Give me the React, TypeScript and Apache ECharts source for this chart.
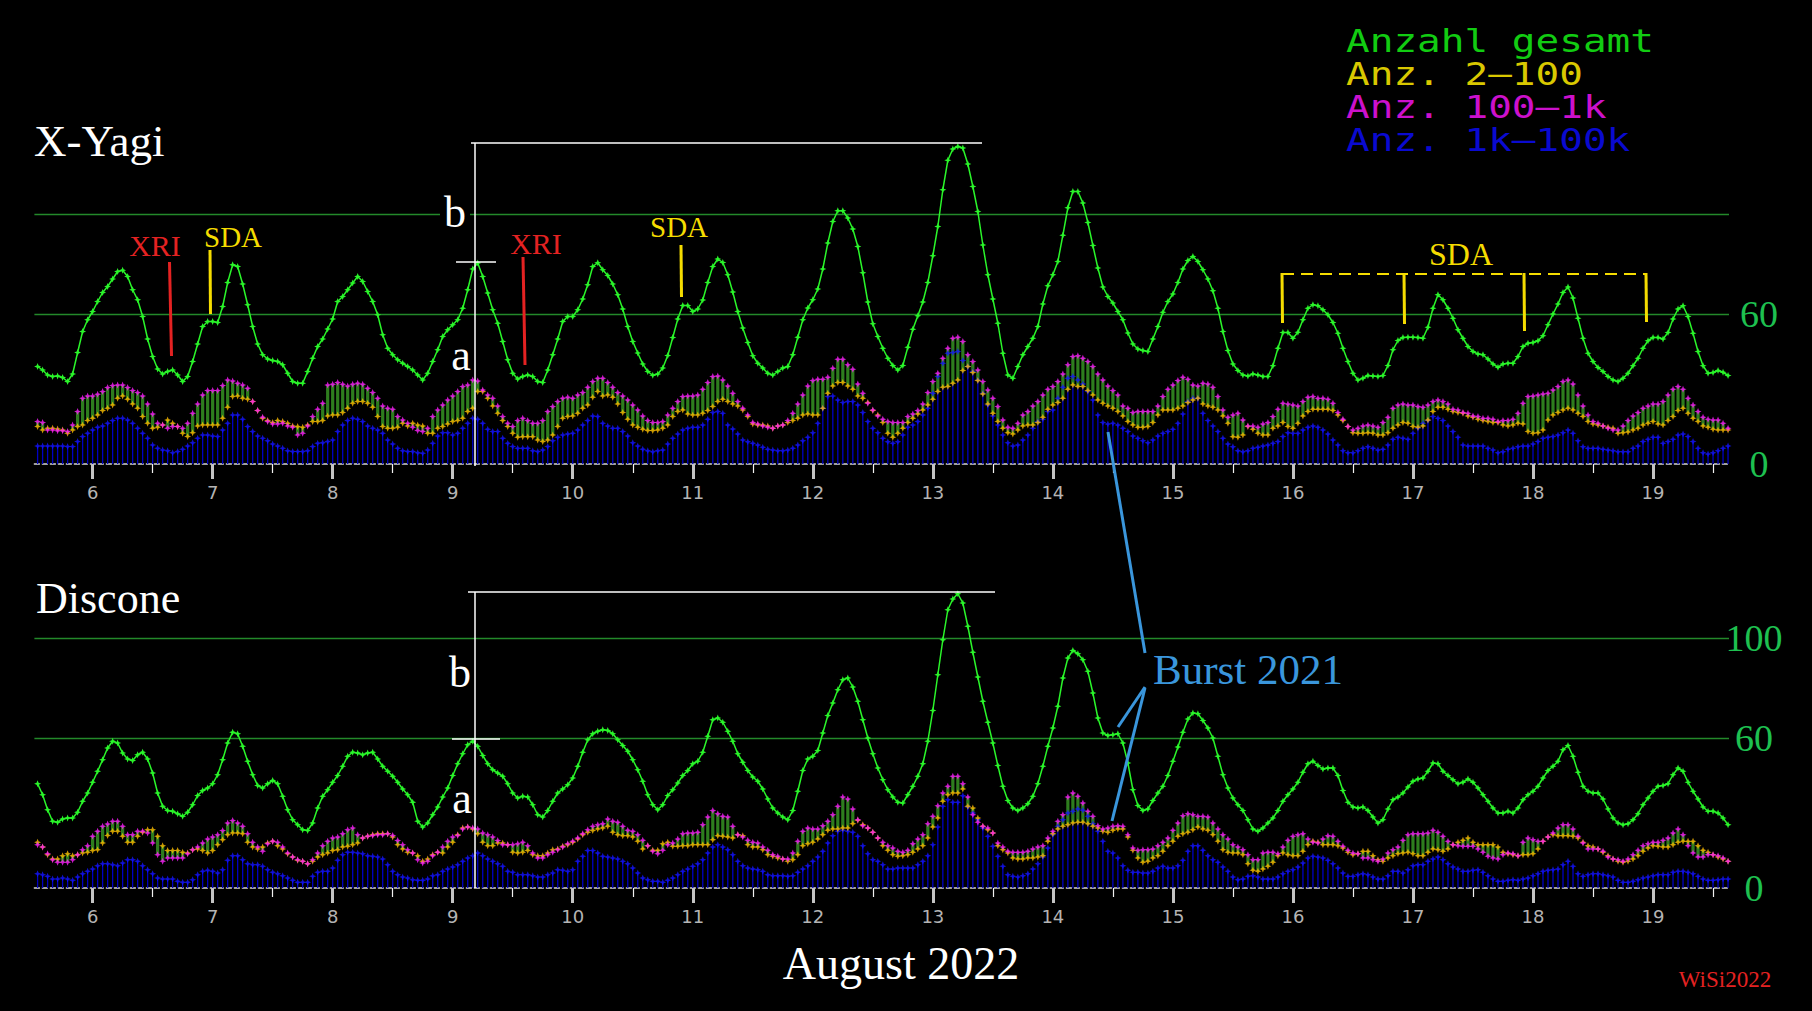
import React, { useEffect, useRef } from "react";
import * as echarts from "echarts";

// hourly samples, first one on 5 Aug 13:00 (x axis in days of August)
const START_DAY = 5 + 13 / 24;
const X_MIN = 5.515;
const X_MAX = 19.633;
const DAY_TICKS = [6, 7, 8, 9, 10, 11, 12, 13, 14, 15, 16, 17, 18, 19];
const HALF_TICKS = [6.5, 7.5, 8.5, 9.5, 10.5, 11.5, 12.5, 13.5, 14.5, 15.5, 16.5, 17.5, 18.5, 19.5];
const TOP_Y_LABELS = [0, 60];
const BOTTOM_Y_LABELS = [0, 60, 100];
const GRID_VALUES = [60, 100];

const LEGEND = ["Anzahl gesamt", "Anz. 2\u2013100", "Anz. 100\u20131k", "Anz. 1k\u2013100k"];

// ---------------- X-Yagi ----------------
const yagiTotal = [
  39, 37.6, 35.6, 35, 35.2, 34.6, 33, 36, 44.6, 53, 57.7,
  61, 65, 68.6, 71, 74, 77, 77.5, 75, 69.7, 65.7, 59, 50, 43, 38, 36, 37, 37.6, 35.6, 33, 35, 41, 48, 55, 57,
  57, 56.6, 63, 72.6, 79.7, 79, 72, 63.7, 55, 48, 43.7, 42, 41.4, 41, 39.7, 36.3, 33, 32.3, 32.3, 37, 42.3, 47, 50, 54,
  58, 65, 67, 69.7, 72.4, 75, 73, 69, 65, 59.7, 51.7, 46.3, 43.7, 41.7, 40.3, 39, 37.6, 35.6, 33.6, 36.3, 41, 45.7, 51, 53.7,
  55.7, 57.7, 62.3, 69.7, 78, 80.4, 75, 68.4, 61.7, 56.3, 49, 41.7, 36.3, 34, 35, 35.6, 35, 33, 32.6, 37.6, 43.7, 50, 57, 59,
  59, 61.7, 66, 71.7, 79, 80.5, 77.7, 75.4, 72, 67.7, 62, 55, 49, 44.4, 40, 37, 35.5, 36, 38.4, 43.4, 50.6, 58, 63.4, 63.4,
  61, 62, 65.6, 72.6, 79, 82, 80.6, 75.7, 68.8, 61, 54.4, 48.6, 43.3, 40.3, 38.4, 36.3, 35.6, 37, 38.4, 39, 43.7, 50.7, 57.7, 62.4,
  65.7, 70, 78, 88.4, 97, 101.3, 101.3, 98.4, 94, 87, 76.5, 64.8, 56.1, 51, 46.3, 42.3, 39.4, 37.6, 39.4, 46.7, 53.9, 59.3, 64.8, 72.6,
  83.3, 95, 109.7, 121.5, 126, 127, 126.4, 120, 111, 101, 87.6, 75.7, 66, 56.3, 44.3, 35.6, 34.3, 39, 43.7, 47, 50.3, 55, 64, 71.3,
  75.7, 81, 91.5, 102.5, 109, 109, 104.4, 96.6, 87.4, 78.4, 70.8, 67, 64.4, 61, 57.7, 52.4, 48, 46, 45.4, 45, 50, 55, 60.7, 65,
  68, 72.6, 78, 81.4, 83, 81, 77.7, 74, 69.3, 62.3, 53, 45.4, 40, 37.4, 35.6, 35.2, 36, 35.6, 35, 35, 39.3, 46.3, 52.6, 52.6,
  50.3, 52.7, 57.7, 62.3, 63.7, 63.3, 61.7, 59.7, 56.6, 52.3, 46.3, 41, 36.3, 33.6, 34.3, 35.4, 35.2, 35, 35.4, 39.4, 45.7, 49.4, 50.6, 50.7,
  50.7, 50.6, 50.3, 54.7, 62.3, 67.7, 65.7, 62.3, 58.3, 53.7, 50.3, 47, 45, 44, 43.7, 42, 40, 38.7, 40, 40.3, 40.3, 43, 47, 48.3,
  48.6, 49.3, 51.3, 55.7, 60, 64, 68.6, 70.8, 66.4, 58.3, 50.3, 44.3, 41, 38.6, 37, 35, 33.6, 33, 34.3, 36.3, 39.3, 42.3, 46.3, 49.3,
  50.6, 50.6, 50, 52.6, 58, 62, 63.3, 59, 52.3, 45, 39.3, 36.3, 36.6, 37.4, 36.7, 35.4,
];
const yagiMid = [
  17, 16.6, 13.6, 13.6, 13.3, 13.3, 13, 15.6, 21, 26.3, 27.2,
  27.2, 27.9, 29, 30.6, 31.4, 31.6, 31.6, 30.6, 29.4, 28.6, 27.2, 24, 20, 16.3, 15.6, 14.3, 15, 15, 14.3, 16.3, 20.3, 24, 27.6, 29.4,
  29.4, 29.4, 31.4, 33.6, 33.2, 32.3, 31.6, 30.3, 25, 21.4, 18.7, 17, 16, 16, 16.3, 15.2, 14.7, 11.6, 12.3, 15.2, 19, 21.9, 24.3, 31.6,
  31.9, 32.6, 31.9, 31.2, 31.9, 32.3, 31.9, 30.3, 28.6, 26.3, 23.2, 22.3, 21.9, 19, 17.6, 16.3, 14.7, 13.4, 13, 14.3, 19, 21.6, 23.6, 25.6,
  27.2, 29, 31, 31.6, 33.6, 33.2, 29.6, 27.6, 26.3, 23.2, 19, 16.3, 15, 17.4, 18.3, 17.4, 16.3, 16.3, 17.4, 21, 23, 25, 26.3, 26.7,
  26.3, 27.6, 28.6, 30.7, 33, 34.3, 34.3, 32.6, 30.7, 28.6, 27.2, 25.6, 23.6, 21.6, 19.2, 17.4, 16.6, 16.6, 17, 19.6, 22.3, 25, 27, 27.2,
  27.2, 27.6, 29.9, 32.6, 35, 35.2, 33.6, 31.2, 28.3, 25, 22.3, 19.6, 16.6, 16, 15.2, 14.7, 14.3, 15.2, 15.6, 17.4, 20.3, 24, 27.6, 31.2,
  33.4, 33.9, 33.9, 34.7, 38.3, 41.9, 41.9, 39.7, 37.9, 32, 28.3, 24.3, 21.6, 19.2, 17.9, 17, 16.6, 16.6, 16.6, 19, 20, 21.4, 24, 28.6,
  33, 36.3, 42.3, 46.3, 50.3, 50.7, 49, 43.7, 41, 37.6, 33, 29.6, 26.3, 23, 17.6, 14.7, 14.3, 16.3, 19.6, 21, 23.2, 25, 27.6, 29.9,
  31, 33, 36, 39.7, 43, 43.3, 42.3, 41, 39, 36, 33.6, 31.2, 29.4, 27.6, 23.2, 22.3, 20.6, 21, 21, 21, 21, 23.2, 27, 29.9,
  31.6, 33.4, 34.7, 33.9, 31.6, 31.2, 32.3, 32, 30.7, 27, 21.6, 18.7, 19.6, 20.3, 17.6, 15.2, 15.2, 14.7, 16, 16.6, 19, 21.9, 24.3, 24,
  23.6, 23.2, 25, 26.7, 27, 26.3, 26.3, 25.9, 24.3, 20.6, 17.9, 15, 13.6, 14.3, 15.2, 15.6, 15.2, 14.7, 16.6, 18.7, 22.3, 23.6, 24, 23.6,
  23.6, 23, 22.7, 23.6, 25, 25.6, 25, 24, 21.9, 21.6, 20.6, 20.3, 19.2, 19, 18.3, 18.3, 17.9, 17, 17.4, 17.4, 17.9, 20.3, 24.3, 27,
  27.2, 27.6, 28, 28.3, 29.6, 31, 33, 33.6, 32, 27.6, 23.2, 19.6, 17, 16.3, 15.2, 14.3, 13.6, 13.6, 15.2, 17.4, 19.2, 20.6, 22.3, 23.2,
  24, 24, 25, 27.6, 29.9, 31, 29.9, 26.3, 23.6, 21, 18.7, 17.9, 17.6, 17.6, 16.3, 14.3,
];
const yagiLow = [
  15, 13.6, 14.3, 14.3, 14, 13.6, 12.3, 13.6, 15, 15.6, 17.4,
  18.3, 19.6, 21.4, 22.3, 23.6, 26.3, 27.2, 25.9, 24, 22.3, 19, 16.3, 14.3, 14.7, 15.6, 17.6, 16.3, 15, 12.3, 11, 12.5, 15.2, 15.6, 15.6,
  15.6, 15.6, 18.3, 22.7, 27, 27.2, 26.3, 25.9, 25, 21.4, 18.3, 17.4, 16.6, 17.4, 17, 16.3, 15.2, 15, 14.7, 15.6, 17, 17, 17.4, 19.2,
  19.6, 19.6, 20.6, 22.3, 24.3, 25, 25, 24.3, 22.7, 19, 15, 14.3, 14.3, 14.7, 16.3, 15.2, 16.3, 15.6, 15.2, 12.3, 12.3, 14.3, 15, 16,
  17, 17.4, 18.3, 21, 22.3, 29, 29, 26.3, 23.2, 20.3, 17.4, 15, 12.3, 10.7, 10.9, 10.9, 10.9, 9.6, 9, 9.6, 11.6, 15, 18.3, 19,
  19.2, 20.3, 22.3, 23.6, 26.7, 29, 27.2, 27.6, 26.7, 24, 20.6, 17.9, 15.6, 14.7, 13.9, 13.4, 13.4, 13.6, 14.3, 15.6, 19, 21, 21.6, 20,
  19.6, 19.6, 20.3, 21.4, 23, 25, 25.9, 25, 24, 23.2, 21.6, 19, 16, 15.6, 15.6, 15.2, 14.3, 15.2, 15.6, 16.6, 17.4, 18.3, 19.6, 20,
  19.6, 19.6, 22.3, 28.3, 31.2, 32.6, 32.6, 31.2, 29.9, 27.2, 26.3, 24.6, 21.4, 19.6, 16.6, 12.3, 10.7, 12.3, 14.3, 16.6, 18.3, 20, 21.6, 23.6,
  25.9, 29, 30.7, 31, 32.3, 33.6, 37.4, 39, 36.6, 33.4, 28, 24, 20.3, 17, 14.3, 12.5, 12, 13.6, 15.2, 15.6, 15.6, 16.6, 18.7, 21.9,
  23.6, 24.6, 26.3, 29.9, 31.6, 31, 31, 29.4, 27.6, 25.6, 24.3, 23.2, 22.3, 21, 19.2, 17, 15.6, 14.7, 14.7, 15, 16.6, 19.6, 21.6, 21.6,
  21.6, 22.3, 23.2, 24.6, 25.6, 26.3, 24, 23.2, 22.7, 21.6, 19.2, 16.3, 10.9, 10.7, 11.6, 15, 13.9, 12.3, 11.6, 11.6, 14.3, 15.2, 16.6, 15,
  14.3, 16.3, 19.2, 21, 21.9, 21.9, 21.9, 21.9, 21.4, 19.6, 17.4, 15, 12.5, 12.3, 12.3, 12.5, 12.3, 11.6, 11.6, 12.5, 14.3, 15.6, 16.6, 16.3,
  15, 14.7, 15.2, 17.6, 21, 22.7, 22.7, 21.9, 21, 20.6, 20.3, 19.2, 18.7, 17.9, 17.4, 17, 16.6, 16.6, 15.6, 15.2, 15.6, 16.3, 16, 13,
  12.3, 12.5, 13.6, 17.6, 19.6, 20.6, 21.6, 22.3, 21.6, 20.3, 19, 17, 16, 15.6, 15.2, 14.7, 14.3, 12.3, 12.5, 12.8, 13.6, 14.3, 15.6, 16.3,
  17, 16, 15.6, 17.4, 19, 21.4, 22.3, 20.3, 18.3, 17, 15.2, 14.7, 13.9, 13.6, 13.6, 13.6,
];
const yagiHigh = [
  7.2, 7.2, 7.2, 7.2, 7.2, 7.2, 7, 7, 9, 11, 12.3,
  13.6, 14.7, 15.2, 16.3, 17.4, 18.3, 18.3, 17.6, 16.3, 14.3, 12.3, 10.3, 7.6, 6.3, 5.6, 5.3, 4.5, 5, 5.9, 7.2, 8.5, 10.3, 11.6, 11.6,
  11.2, 11, 13.6, 16.3, 19.6, 19.6, 17.9, 15, 13, 11.2, 10.3, 9.3, 8, 7.2, 6.3, 5.3, 5, 5, 5, 5.3, 7, 8.3, 8.5, 9,
  9.6, 13, 15.6, 17.4, 18.3, 17.9, 17, 15.2, 14.3, 13.6, 12.3, 9.6, 8, 6.3, 5.3, 5, 5, 4.5, 4.3, 5.6, 8.3, 11.2, 12.5, 12.5,
  11.6, 12.3, 14.3, 16.3, 18.3, 17.9, 16.3, 13.9, 13, 13, 10.3, 8.3, 7, 6.3, 6.3, 6.3, 5.3, 5, 5.6, 7, 9.3, 10.7, 11.6, 12,
  12.3, 13.6, 15.6, 17.4, 19.2, 19, 16.3, 15.2, 14.3, 14.3, 13, 11.2, 8.5, 7.2, 5.9, 5.3, 4.9, 5.3, 5.6, 8, 10.3, 12, 13.6, 14.3,
  14.7, 14.7, 15.6, 17.9, 20.6, 21, 20.3, 15.6, 14, 12, 9.6, 8.9, 8.3, 7.6, 6.7, 5.9, 5.6, 5.3, 5.3, 5.6, 6.3, 7.6, 9.3, 10.7,
  12.5, 16.3, 22.3, 27, 27.2, 25.6, 24.6, 25, 25, 23.6, 20.6, 17, 14.3, 12.5, 10.3, 8.9, 8.3, 8.9, 11.6, 14.7, 15.6, 17, 19.6, 22.3,
  28.3, 35, 40.3, 44.3, 44.6, 45, 41.4, 39, 37, 33.6, 28.3, 23.6, 19.2, 15.6, 11.6, 8.5, 7.2, 7.6, 9.6, 11.6, 14.3, 17, 17.9, 21,
  21.6, 26.3, 30.7, 34.3, 35, 33.6, 32, 29, 25.6, 19.6, 16.6, 16, 16.3, 15.6, 14.3, 13, 11.2, 10.3, 9.3, 8.5, 9.6, 11.2, 12.3, 13,
  13.9, 16.3, 20, 25, 26.3, 26.3, 20.3, 17.4, 15.2, 13, 10.3, 8, 6.9, 5.3, 4.9, 5.3, 6.3, 6.7, 7.2, 7.6, 8.3, 9, 11, 12.5,
  12.3, 12.3, 13.6, 14.7, 15.2, 14.7, 13.6, 12, 9.6, 7.6, 5.3, 4.5, 4.5, 5.3, 6.3, 6.9, 6.3, 5.6, 5.9, 7.6, 9.9, 10.7, 10.3, 9.9,
  12.3, 14.3, 16.3, 17.4, 19, 18.3, 17.4, 15.2, 13, 10.7, 7.6, 7.2, 7.2, 7.2, 7.2, 6.3, 5.6, 4.5, 4.9, 5.9, 6.3, 6.9, 7.2, 7.2,
  8, 9, 10.3, 10.7, 11, 11.6, 12.5, 13.6, 12.3, 9.3, 6.9, 6.3, 6.3, 6.3, 5.9, 5.6, 5.3, 4.9, 4.9, 4.9, 6.3, 7.2, 9, 9.9,
  10.7, 10.7, 8.3, 9, 9.9, 11.6, 12, 11, 9, 6.3, 4.5, 4, 4.5, 5.3, 6.3, 7.2,
];

// ---------------- Discone ----------------
const disconeTotal = [
  41.7, 37.3, 31.3, 26.7, 26.3, 27.6, 28, 28, 30.3, 34.7, 38,
  42.3, 46.7, 51.3, 56, 58.7, 58, 54, 51.6, 51, 53.3, 54.3, 51.6, 46, 38, 32.7, 31, 30.7, 29.7, 28.7, 30.3, 33.3, 37, 39, 40,
  41.7, 45.3, 51.3, 58, 62.3, 61.7, 56.7, 50.7, 45.3, 41, 40, 41.7, 43, 41.7, 36.7, 31.3, 27.3, 25.3, 23.3, 23, 26, 32, 36.7, 39.3,
  42.3, 45, 48.7, 52.7, 54.3, 54, 53.3, 54, 54.3, 51.6, 48.7, 46.7, 44.7, 42.3, 39.6, 37.3, 34.3, 26.7, 24.4, 26, 29.3, 32.4, 36.4, 40,
  45, 49.7, 53.7, 57.3, 58.7, 56.7, 53, 49.7, 47.3, 46, 44.7, 41.7, 38, 36, 36.7, 36.4, 33.3, 29.3, 28.4, 31, 34.7, 38, 39.6, 41.3,
  44, 48.7, 54.3, 59.3, 61.7, 62.7, 63.3, 63, 61.7, 59.3, 57, 54.7, 51.3, 47.3, 42.7, 37.3, 33.3, 31.3, 33.3, 37, 39.3, 42, 45, 47,
  49.7, 50.7, 54.3, 60.7, 67.3, 68, 66.3, 62.7, 58.7, 53.7, 50.3, 47, 44.4, 42.7, 39.6, 35.6, 32, 30, 28.4, 27.3, 31, 38.7, 47, 51.6,
  52.7, 55, 62, 69, 74, 79.3, 83.3, 84, 80.4, 74.7, 67.3, 60, 53.7, 48, 43.3, 39.3, 36.4, 34.3, 34, 37.3, 40.7, 44.7, 49.7, 58.7,
  71, 85.3, 99.3, 111.3, 115.6, 117.7, 114, 104.7, 94.3, 84.4, 74.7, 66.3, 58, 49, 40.7, 35, 32, 31, 32, 33.7, 36.7, 41.7, 48.7, 56.7,
  64, 72.7, 84, 92, 95, 93.7, 91.3, 86.7, 78, 68, 62, 61, 61.3, 61.7, 58, 50, 39.3, 33, 31, 31.6, 35, 38, 40.7, 45,
  50.7, 56.4, 62.3, 67.6, 70, 69.7, 67, 64, 60, 52.7, 45.3, 40, 36, 33.3, 31, 27.3, 23.6, 22.7, 24, 26, 28, 31, 34.7, 37.3,
  39.6, 42.3, 46.3, 49.7, 50.7, 49, 47.6, 48, 48, 45, 39, 34.3, 32.4, 32, 32.4, 31, 28.4, 26, 27.3, 31.6, 35.3, 36.4, 38, 40.4,
  42.7, 43.6, 44, 46.7, 50, 49.7, 46.7, 45, 43.3, 41.7, 42.3, 43.6, 42.3, 40, 37.3, 34.7, 32, 30, 30, 30.7, 30, 32, 35.3, 37.3,
  38.7, 40.7, 44, 47, 48.7, 50.7, 55.3, 57, 52.7, 46.3, 40.7, 38.7, 38, 38, 35.6, 31.6, 28, 26, 25.3, 25.7, 27.3, 29.7, 33.3, 36,
  38.7, 40.7, 41, 41.7, 45.3, 48, 46.7, 42.3, 38.7, 35.6, 32.4, 30.7, 30.7, 30, 28, 25.3,
];
const disconeMid = [
  17.3, 16.4, 13.7, 11.3, 10.3, 10.3, 10.3, 11.3, 13.3, 15.3, 16.9,
  20.7, 22.7, 24.7, 25.6, 26.7, 26.7, 24.7, 21.3, 21.3, 22.7, 22.7, 22, 18, 13.3, 10.7, 12, 12, 12, 12, 13.7, 15.3, 16.4, 18, 19.6,
  20.4, 21.3, 23, 26, 27, 26, 24.7, 21.7, 18.3, 16.4, 14.7, 17.7, 18.7, 18.3, 16.4, 14, 12.4, 11.3, 10.7, 9.7, 11.3, 14, 16.9, 18.7,
  20, 20.4, 21.7, 23.3, 24, 21.3, 20, 20.7, 21, 21.3, 21.3, 21.7, 21, 19, 17.3, 15.3, 14, 11.3, 10, 10.7, 12.9, 14.3, 16.4, 18.7,
  20.4, 21, 23.6, 24.4, 24, 23.6, 22, 21.3, 20.4, 19, 17.3, 17.3, 17.3, 17.7, 18.3, 16.9, 14, 12, 12, 13.3, 14.3, 15.3, 16.4, 17.7,
  18.7, 20, 21.7, 23.3, 24.7, 25.3, 25.7, 27.6, 26.7, 26.3, 24.7, 23.1, 22.7, 21.3, 19.1, 16.9, 14.7, 13.7, 15.1, 17.3, 18, 19.6, 21.7, 22,
  22, 22.3, 25.3, 28.4, 31, 29.7, 28.7, 28.4, 24.7, 21.3, 20.4, 19.1, 18.3, 18, 16.4, 15.1, 13.3, 12.7, 11.6, 11.6, 14, 18.7, 22.7, 24,
  23.6, 23.6, 24.9, 26.7, 29.3, 32.7, 36.4, 35.6, 31.6, 27.3, 24.9, 24, 22.3, 20, 18.3, 16.9, 16, 14.7, 14.3, 15.1, 17.7, 19.6, 21.3, 25.7,
  28.7, 32.9, 38, 40.7, 44.7, 44.7, 41.7, 36.4, 29.3, 26.3, 24.7, 24, 22, 18, 16.4, 14.7, 14.3, 14.3, 14.3, 14.7, 15.6, 16.4, 16.9, 20,
  22.7, 26.7, 29.3, 36.4, 38, 36.7, 34, 30.7, 28.7, 24.9, 23.6, 24, 24.7, 24.9, 24.7, 21.3, 16, 15.1, 15.3, 15.3, 15.6, 16.9, 18.3, 20,
  23.1, 26, 28.9, 29.7, 29.3, 28.7, 28.7, 28.4, 26, 23.6, 21.3, 19.6, 17.3, 16.4, 15.3, 13.3, 11.3, 11.3, 14, 14.3, 14.3, 13.7, 16.4, 19.1,
  20.7, 21.3, 21.7, 19.6, 18.3, 18, 19.6, 20.9, 20.7, 18.7, 16.7, 15.1, 14, 13.7, 12, 12, 11.3, 10.7, 11.6, 14, 15.3, 16.4, 19.1, 21.3,
  21.7, 21.7, 21.7, 22, 23.1, 22.3, 20.7, 18.7, 17.3, 16.9, 16.7, 16.7, 16.7, 15.6, 14.3, 12.7, 12, 11.6, 13.3, 14, 13.7, 12.9, 18.3, 20,
  19.3, 18.7, 18.7, 20.4, 22, 24, 25.3, 25.3, 23.6, 20.7, 18, 15.6, 15.6, 15.6, 14.7, 12.4, 11.6, 11.3, 10.7, 11.6, 13.3, 15.1, 16.9, 17.7,
  18.3, 18.3, 19.1, 20, 22, 23.6, 21.3, 16.9, 14, 12.4, 12.4, 13.3, 13.3, 12.9, 12, 10.7,
];
const disconeLow = [
  18.3, 16.4, 13.3, 11.6, 11.6, 12.9, 13.7, 12.9, 13.3, 14, 14.3,
  15, 15.3, 18, 21, 22.7, 22.7, 20.7, 18.3, 18.3, 20.7, 22.3, 23.3, 23.3, 20.7, 16.9, 15, 15, 15, 14.3, 14, 15.3, 15.6, 15, 14,
  15, 17.3, 19.3, 21.3, 22, 22, 21.7, 18.3, 16.4, 15.6, 16.4, 18, 18.7, 16.9, 15.6, 13.7, 12.4, 11.1, 10.7, 9.7, 10.7, 12.4, 13.3, 14,
  15, 15.3, 16.4, 16.7, 17.3, 18, 20, 20.7, 21.3, 21.7, 21.7, 21.7, 20.4, 17.3, 15.6, 14.3, 14, 12.9, 10.7, 11.6, 13.3, 14.3, 14, 16.4,
  18.3, 21.3, 24, 24.4, 23.6, 21.7, 18.3, 16.9, 16.9, 18, 18, 17.3, 14.3, 14, 14.3, 15, 13.3, 12.9, 12.9, 14, 15.3, 15.6, 16.7, 17.3,
  18.3, 19.6, 21.3, 22.3, 23, 23.6, 24, 24.7, 22.3, 21.3, 20.9, 20.9, 20.4, 18.7, 15.6, 16.9, 15.1, 15.1, 17.7, 18.3, 16.7, 16.7, 16.9, 16.9,
  17.3, 17.3, 17.3, 17.3, 19.3, 20.9, 20.7, 20.4, 20, 21.3, 20.9, 17.3, 16.4, 16.4, 15.3, 13.3, 12.7, 12, 11.6, 10.7, 11.3, 13.3, 16.9, 17.7,
  18.3, 19.6, 21.3, 23.1, 23.6, 23.6, 24, 24, 25.7, 27.1, 25.3, 24, 22.3, 20, 16.9, 15.1, 13.3, 12.7, 12.9, 13.3, 14.3, 15.6, 16.9, 20,
  24.4, 28, 34.7, 37.3, 38, 38, 39.6, 32.7, 32, 28, 24.7, 23.3, 22, 16.9, 15.3, 14, 12, 11.6, 11.6, 12, 12, 12.4, 12.9, 18.7,
  21.7, 23.6, 24.7, 25.3, 26, 26.3, 26.3, 25.7, 24.7, 24, 22.7, 22.3, 23.1, 23.6, 23.6, 20.4, 15.1, 12, 10.3, 10.7, 12, 12.9, 14.7, 16.9,
  18.7, 20.7, 21.7, 22.3, 23.3, 24.4, 23.6, 23.1, 21.3, 18.7, 15.3, 14.3, 14, 14, 13.3, 9.7, 7.1, 6.7, 7.6, 8.7, 10.3, 12.9, 14, 13.3,
  12.9, 12.9, 14.7, 17.3, 18.7, 18.3, 17.3, 17.3, 17.3, 16.9, 16, 14.3, 13.3, 13.7, 14.7, 14.7, 12.9, 11.3, 10.7, 12, 12.9, 13.7, 14, 14.3,
  13.7, 12.9, 12.9, 14.3, 15.6, 15.3, 14.7, 15.6, 17.3, 18.3, 19.1, 20, 18.3, 17.3, 17.3, 17.3, 17.3, 16.4, 14.3, 13.7, 13.3, 12.9, 13.3, 13.3,
  13.7, 15.6, 18.7, 20.4, 21.3, 20.9, 20.9, 20.9, 20.7, 20, 18.3, 16.9, 16.4, 15.6, 14.3, 12.9, 11.6, 10.7, 10.3, 10.7, 11.6, 12.9, 14.7, 16,
  16.9, 16.7, 16.4, 16.4, 17.3, 18.3, 18.7, 18.7, 18.7, 16.9, 15.1, 14.3, 13.3, 12.4, 11.6, 10.7,
];
const disconeHigh = [
  5.7, 5.3, 4.7, 3.6, 3.6, 4, 3.6, 3.1, 4.4, 5.7, 6.7,
  7.6, 8.9, 9.7, 9.7, 9.3, 8.9, 10, 11.3, 11.3, 10.7, 8.9, 7.3, 5.7, 4, 3.6, 3.6, 3.6, 2.7, 2.3, 2.3, 3.3, 5.3, 6.7, 7.1,
  6.7, 6, 7.3, 11.1, 12.9, 12.9, 11.3, 9.7, 9.3, 9.3, 8.7, 7.3, 6.3, 5.7, 4.9, 4, 3.1, 2.3, 2.3, 2.3, 4.7, 6.3, 6.7, 6.7,
  8, 11.1, 13.3, 14.3, 14.3, 14, 13.7, 12.9, 12.7, 12.4, 11.6, 9.3, 6.7, 5.3, 4.4, 4, 3.3, 3.1, 3.1, 3.6, 4.9, 5.3, 6.7, 7.6,
  8.4, 9.3, 10.7, 12, 12.9, 14, 12.9, 11.6, 10.7, 9.7, 8.7, 6.7, 6.3, 5.3, 5.3, 5.3, 4.9, 4.4, 4.4, 5.3, 6, 7.3, 7.1, 6.7,
  7.3, 10.7, 12.7, 15, 15, 14, 12.7, 12.4, 12, 11.6, 10.7, 9.7, 8, 6, 4, 3.3, 2.7, 2.7, 2.3, 3.1, 4, 5.3, 6.7, 7.6,
  8.7, 9.7, 11.3, 14, 16.4, 17.3, 16.4, 15.3, 13.3, 10.7, 8.9, 8, 7.6, 7.3, 6.7, 5.3, 4.9, 4.9, 4.9, 4.7, 4.9, 6.3, 7.6, 8.9,
  10.7, 12.4, 14.7, 18, 20.9, 22.7, 23.1, 22.7, 22.3, 20.7, 16.9, 13.7, 11.3, 10.7, 9.3, 7.6, 7.6, 8, 8, 8, 8, 9.3, 10.7, 12.9,
  17.3, 24.4, 32.7, 35.3, 34.3, 34.3, 36.9, 32.4, 30, 27.3, 24, 20.7, 16.7, 12.7, 8.7, 5.3, 4.7, 4.4, 4.9, 5.7, 7.6, 9.7, 12.4, 16,
  21.3, 24.7, 27.3, 30, 30.7, 31.6, 31.1, 28.7, 25.7, 22.7, 18.7, 14.7, 14, 12, 8.9, 7.1, 6.3, 6.3, 6, 6, 6.7, 8, 8.7, 8,
  8, 8.9, 11.1, 14.7, 16.9, 16.9, 15.1, 12.9, 11.3, 10.3, 8.4, 6.7, 4.4, 3.3, 3.6, 4.7, 4.9, 4.4, 3.6, 3.6, 3.6, 4.4, 5.7, 6.7,
  7.3, 8.4, 10, 12, 12.7, 12.4, 12, 11.1, 9.7, 8, 6, 4.7, 4.7, 5.3, 5.7, 5.3, 4.4, 3.6, 3.6, 4.9, 6.7, 6.7, 6, 7.3,
  8.9, 9.3, 9.3, 10.7, 11.6, 12.4, 11.3, 9.7, 8.4, 7.6, 6.7, 6.7, 7.1, 7.3, 6.3, 4.9, 3.6, 2.7, 2.7, 3.1, 3.3, 3.1, 3.6, 4,
  4.9, 5.7, 6.7, 7.1, 7.3, 7.6, 9.3, 10.7, 8.7, 5.7, 4.7, 5.3, 5.7, 5.7, 5.3, 4.9, 4.4, 3.1, 2.3, 2.3, 2.7, 3.3, 4, 4.4,
  4.9, 5.3, 5.3, 5.3, 6.3, 6.7, 6.7, 6.3, 5.7, 4.7, 3.6, 3.1, 3.1, 3.3, 3.6, 3.6,
];

const C_TOTAL = "#2af52a";
const C_LOW = "#ffbe00";
const C_MID = "#ff1cff";
const C_HIGH = "#1414ff";
const C_HIGH_BAR = "#0000c4";
const C_RANGE_BAR = "#2e7d1e";
const C_GRID = "#23892a";
const C_YLABEL = "#1ec050";
const STAR = "path://M0,-10L2.8,-2.8L10,0L2.8,2.8L0,10L-2.8,2.8L-10,0L-2.8,-2.8Z";

const hourTime = (i: number) => START_DAY + i / 24;
const pts = (arr: number[]) => arr.map((v, i) => [hourTime(i), v]);

function panelSeries(p: number, total: number[], low: number[], mid: number[], high: number[]) {
  const xAxisIndex = p * 2;
  const yAxisIndex = p;
  return [
    {
      type: "line",
      xAxisIndex,
      yAxisIndex,
      data: [[X_MIN + 0.1, 0]],
      symbol: "none",
      lineStyle: { opacity: 0 },
      silent: true,
      z: 1,
      markLine: {
        silent: true,
        symbol: ["none", "none"],
        label: { show: false },
        lineStyle: { color: C_GRID, width: 1.3, type: "solid" },
        data: GRID_VALUES.map((v) => ({ yAxis: v })),
      },
    },
    {
      type: "custom",
      xAxisIndex,
      yAxisIndex,
      z: 2,
      silent: true,
      data: pts(high),
      encode: { x: 0, y: 1 },
      renderItem: (_params: any, api: any) => {
        const a = api.coord([api.value(0), 0]);
        const b = api.coord([api.value(0), api.value(1)]);
        return {
          type: "line",
          shape: { x1: a[0], y1: a[1], x2: b[0], y2: b[1] },
          style: { stroke: C_HIGH_BAR, lineWidth: 1.3 },
        };
      },
    },
    {
      type: "custom",
      xAxisIndex,
      yAxisIndex,
      z: 3,
      silent: true,
      data: low.map((v, i) => [hourTime(i), v, mid[i]]),
      encode: { x: 0, y: [1, 2] },
      renderItem: (_params: any, api: any) => {
        const a = api.coord([api.value(0), api.value(1)]);
        const b = api.coord([api.value(0), api.value(2)]);
        return {
          type: "line",
          shape: { x1: a[0], y1: a[1], x2: b[0], y2: b[1] },
          style: { stroke: C_RANGE_BAR, lineWidth: 3.2 },
        };
      },
    },
    {
      type: "scatter",
      xAxisIndex,
      yAxisIndex,
      z: 4,
      symbol: STAR,
      symbolSize: 7,
      itemStyle: { color: C_HIGH },
      data: pts(high),
    },
    {
      type: "scatter",
      xAxisIndex,
      yAxisIndex,
      z: 5,
      symbol: STAR,
      symbolSize: 7,
      itemStyle: { color: C_LOW },
      data: pts(low),
    },
    {
      type: "scatter",
      xAxisIndex,
      yAxisIndex,
      z: 6,
      symbol: STAR,
      symbolSize: 7,
      itemStyle: { color: C_MID },
      data: pts(mid),
    },
    {
      type: "line",
      xAxisIndex,
      yAxisIndex,
      z: 7,
      symbol: STAR,
      symbolSize: 7,
      showSymbol: true,
      showAllSymbol: true,
      lineStyle: { color: C_TOTAL, width: 1.5 },
      itemStyle: { color: C_TOTAL },
      data: pts(total),
    },
  ];
}

function xAxes(gridIndex: number) {
  return [
    {
      type: "value",
      gridIndex,
      min: X_MIN,
      max: X_MAX,
      position: "bottom",
      axisLine: { show: true, onZero: false, lineStyle: { color: "#d6d6d6", width: 1.5, type: [5, 3] } },
      axisTick: { show: true, customValues: DAY_TICKS, length: 15, lineStyle: { color: "#c4c4c4", width: 3 } },
      axisLabel: {
        show: true,
        customValues: DAY_TICKS,
        margin: 19,
        fontSize: 18,
        fontFamily: "DejaVu Sans",
        color: "#b4b4b4",
        formatter: (v: number) => String(Math.round(v)),
      },
      splitLine: { show: false },
    },
    {
      type: "value",
      gridIndex,
      min: X_MIN,
      max: X_MAX,
      position: "bottom",
      axisLine: { show: false },
      axisTick: { show: true, customValues: HALF_TICKS, length: 9, lineStyle: { color: "#f0f0f0", width: 1.2 } },
      axisLabel: { show: false },
      splitLine: { show: false },
    },
  ];
}

function yAxis(gridIndex: number, labels: number[], margin: number) {
  return {
    type: "value",
    gridIndex,
    min: 0,
    max: 140,
    position: "right",
    axisLine: { show: false },
    axisTick: { show: false },
    splitLine: { show: false },
    axisLabel: {
      show: true,
      customValues: labels,
      align: "center",
      margin,
      fontSize: 38,
      fontFamily: "Liberation Serif",
      color: C_YLABEL,
    },
  };
}

const serifText = (text: string, x: number, y: number, size: number, fill: string, align = "left") => ({
  type: "text",
  z: 100,
  silent: true,
  x,
  y,
  style: { text, fill, fontSize: size, fontFamily: "Liberation Serif", align, verticalAlign: "middle" },
});
const seg = (x1: number, y1: number, x2: number, y2: number, stroke: string, lineWidth: number, lineDash?: number[]) => ({
  type: "line",
  z: 100,
  silent: true,
  shape: { x1, y1, x2, y2 },
  style: lineDash ? { stroke, lineWidth, lineDash } : { stroke, lineWidth },
});

const WHITE = "#ffffff";
const RED = "#e42222";
const YEL = "#f5dc00";
const BURST = "#3a96dc";
const LEGEND_COLORS = ["#12cc12", "#d9c800", "#cc11cc", "#0a0ad0"];

const graphics = [
  serifText("X-Yagi", 34, 141, 45, WHITE),
  serifText("Discone", 36, 598, 44, WHITE),
  { type: "rect", z: 99, silent: true, shape: { x: 440, y: 208, width: 30, height: 12 }, style: { fill: "#000" } },
  serifText("b", 455, 212, 44, WHITE, "center"),
  serifText("a", 461, 355, 44, WHITE, "center"),
  serifText("b", 460, 672, 44, WHITE, "center"),
  serifText("a", 462, 798, 44, WHITE, "center"),
  serifText("XRI", 155, 245, 30, RED, "center"),
  serifText("XRI", 536, 243, 30, RED, "center"),
  serifText("SDA", 233, 237, 29, YEL, "center"),
  serifText("SDA", 679, 227, 29, YEL, "center"),
  serifText("SDA", 1461, 254, 32, YEL, "center"),
  serifText("Burst 2021", 1153, 669, 43, BURST),
  serifText("August 2022", 901, 963, 46, WHITE, "center"),
  serifText("WiSi2022", 1725, 979, 23, RED, "center"),
  ...LEGEND.map((t, i) => ({
    type: "text",
    z: 100,
    silent: true,
    x: 1346,
    y: [41, 74, 107, 140][i],
    scaleX: 1.23,
    style: { text: t, fill: LEGEND_COLORS[i], fontSize: 32, fontFamily: "DejaVu Sans Mono", align: "left", verticalAlign: "middle" },
  })),
  // brackets a / b
  seg(475, 143, 475, 466, WHITE, 1.5),
  seg(471, 143, 982, 143, WHITE, 1.5),
  seg(456, 262, 496, 262, WHITE, 1.5),
  seg(475, 592, 475, 888, WHITE, 1.5),
  seg(468, 592, 995, 592, WHITE, 1.5),
  seg(452, 739, 500, 739, WHITE, 1.5),
  // XRI / SDA pointers
  seg(169.5, 262, 171.5, 356, RED, 3),
  seg(523, 257, 525, 365, RED, 3),
  seg(210, 250, 210.5, 314, YEL, 3),
  seg(681, 245, 681.5, 297, YEL, 3),
  seg(1282, 274, 1646, 274, YEL, 2, [12, 7]),
  seg(1282, 273, 1282.5, 323, YEL, 3),
  seg(1404, 273, 1404.5, 324, YEL, 3),
  seg(1524, 273, 1524.5, 331, YEL, 3),
  seg(1646, 273, 1646.5, 322, YEL, 3),
  // Burst pointers
  seg(1108, 432, 1145, 653, BURST, 3),
  seg(1145, 687, 1118, 727, BURST, 3),
  seg(1145, 688, 1112, 821, BURST, 3),
];

const option = {
  animation: false,
  backgroundColor: "#000000",
  grid: [
    { left: 34.4, top: 114, width: 1694.6, height: 350, outerBoundsMode: "none", containLabel: false },
    { left: 34.4, top: 538, width: 1694.6, height: 350, outerBoundsMode: "none", containLabel: false },
  ],
  xAxis: [...xAxes(0), ...xAxes(1)],
  yAxis: [yAxis(0, TOP_Y_LABELS, 30), yAxis(1, BOTTOM_Y_LABELS, 25)],
  series: [
    ...panelSeries(0, yagiTotal, yagiLow, yagiMid, yagiHigh),
    ...panelSeries(1, disconeTotal, disconeLow, disconeMid, disconeHigh),
  ],
  graphic: { elements: graphics },
};

export default function App() {
  const ref = useRef<HTMLDivElement>(null);
  useEffect(() => {
    document.body.style.margin = "0";
    document.body.style.background = "#000";
    const chart = echarts.init(ref.current as HTMLDivElement, null, { renderer: "svg" });
    chart.setOption(option as any);
    return () => chart.dispose();
  }, []);
  return <div ref={ref} style={{ width: 1812, height: 1011, background: "#000" }} />;
}
